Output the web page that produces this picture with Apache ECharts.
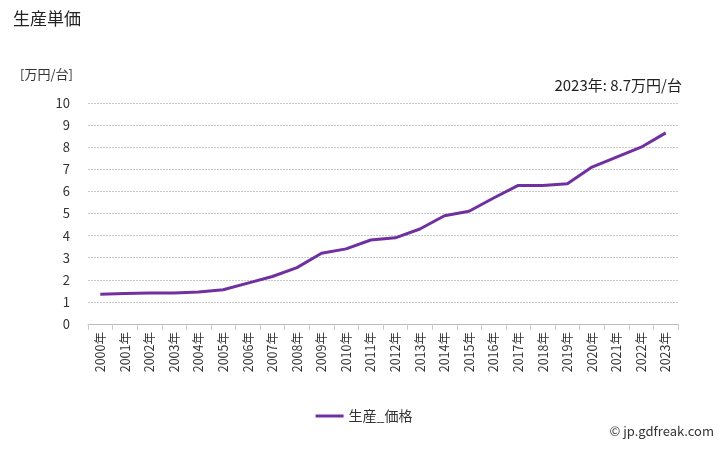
<!DOCTYPE html>
<html><head><meta charset="utf-8">
<script src="https://cdn.jsdelivr.net/npm/echarts@6/dist/echarts.min.js"></script>
<style>html,body{margin:0;padding:0;background:#fff}#c{width:728px;height:450px}</style>
</head><body><div id="c"></div>
<script>
const categories = ["2000年","2001年","2002年","2003年","2004年","2005年","2006年","2007年","2008年","2009年","2010年","2011年","2012年","2013年","2014年","2015年","2016年","2017年","2018年","2019年","2020年","2021年","2022年","2023年"];
const values = [1.35,1.38,1.4,1.4,1.45,1.55,1.85,2.15,2.55,3.2,3.4,3.8,3.9,4.3,4.9,5.1,5.7,6.27,6.27,6.35,7.1,7.55,8.0,8.65];
const seriesName = "生産_価格";
const yMin = 0, yMax = 10, yInterval = 1;
const fontFam = '"Noto Sans CJK JP","Noto Sans",sans-serif';
const chart = echarts.init(document.getElementById('c'), null, {renderer:'canvas'});
chart.setOption({
  animation:false,
  title:{text:'生産単価',left:8,top:5,textStyle:{fontSize:17,fontWeight:'normal',color:'#222',fontFamily:fontFam}},
  graphic:[
    {type:'text',left:20,top:68,style:{text:'[万円/台]',fontSize:13,fill:'#333',fontFamily:fontFam}},
    {type:'text',right:46,top:78,style:{text:'2023年: 8.7万円/台',fontSize:15,fill:'#222',fontFamily:fontFam}},
    {type:'text',right:14,top:425,style:{text:'© jp.gdfreak.com',fontSize:13,fill:'#333',fontFamily:fontFam}}
  ],
  legend:{bottom:22,left:'center',itemWidth:28,itemHeight:3,icon:'rect',
    textStyle:{fontSize:14,color:'#333',fontFamily:fontFam},data:[seriesName]},
  grid:{left:88,right:50,top:103,bottom:126},
  xAxis:{type:'category',data:categories,boundaryGap:true,
    axisLine:{lineStyle:{color:'#bbb'}},
    axisTick:{show:true,interval:0,length:6,lineStyle:{color:'#ccc'}},
    axisLabel:{interval:0,rotate:90,fontSize:12.5,color:'#333',fontFamily:fontFam,margin:8}},
  yAxis:{type:'value',min:yMin,max:yMax,interval:yInterval,
    axisLine:{show:false},axisTick:{show:false},
    axisLabel:{fontSize:13,color:'#333',fontFamily:fontFam,margin:18},
    splitLine:{lineStyle:{color:'#c8c8c8',type:[2,1]}}},
  series:[{name:seriesName,type:'line',data:values,symbol:'none',
    lineStyle:{color:'#7030a0',width:3},itemStyle:{color:'#7030a0'}}]
});
</script></body></html>
